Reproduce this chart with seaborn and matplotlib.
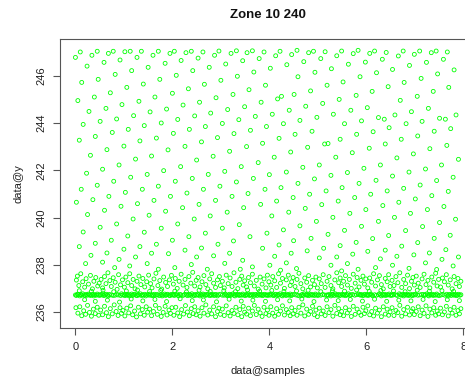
import matplotlib
matplotlib.use("Agg")
import matplotlib.pyplot as plt
import seaborn as sns
import pandas as pd

TITLE = "Zone 10 240"
X_LABEL = "data@samples"
Y_LABEL = "data@y"
X_TICKS = [0, 2, 4, 6, 8]
Y_TICKS = [236, 238, 240, 242, 244, 246]

# Readings that climb through the upper range (samples, y)
ramp_points = [
    (0.00, 246.79), (0.10, 247.02), (0.34, 246.88), (0.45, 247.05), (0.68, 246.96), (0.78, 247.05),
    (1.02, 247.03), (1.13, 247.05), (1.36, 247.05), (1.27, 246.79), (1.60, 246.88), (1.71, 247.05),
    (1.95, 246.96), (2.04, 247.05), (2.28, 246.99), (2.39, 247.05),
    (0.24, 246.42), (0.59, 246.58), (0.92, 246.68), (1.50, 246.37), (1.85, 246.54), (2.18, 246.66), (2.42, 246.23),
    (0.13, 245.73), (0.47, 245.86), (0.82, 246.07), (1.16, 246.23), (1.40, 245.66), (1.74, 245.86), (2.08, 246.03), (2.33, 245.46),
    (0.05, 244.96), (0.39, 245.11), (0.72, 245.29), (1.06, 245.52), (1.31, 244.93), (1.64, 245.11), (2.00, 245.27), (2.22, 244.77),
    (0.28, 244.50), (0.63, 244.63), (0.96, 244.79), (1.54, 244.48), (1.88, 244.60), (2.46, 244.31),
    (0.16, 243.95), (0.51, 244.08), (0.85, 244.18), (1.20, 244.32), (1.42, 243.90), (1.77, 244.01), (2.11, 244.16), (2.35, 243.74),
    (0.08, 243.28), (0.41, 243.44), (0.76, 243.61), (1.09, 243.74), (1.33, 243.25), (1.67, 243.37), (2.02, 243.57), (2.26, 243.02),
    (0.31, 242.64), (0.65, 242.88), (1.00, 243.03), (1.24, 242.48), (1.57, 242.61), (1.91, 242.87), (2.50, 242.44),
    (2.53, 246.76), (2.63, 247.02), (2.87, 246.88), (2.96, 247.06), (3.21, 246.96), (3.32, 247.07), (3.54, 246.99),
    (3.65, 247.07), (3.89, 247.02), (3.79, 246.74), (4.13, 246.86), (4.22, 247.05), (4.46, 246.91), (4.57, 247.09),
    (4.81, 246.99), (4.91, 247.05), (5.15, 247.03), (5.06, 246.74),
    (3.45, 246.65), (3.10, 246.51), (2.76, 246.37), (4.71, 246.61), (4.36, 246.48), (4.02, 246.33), (3.68, 246.17),
    (3.34, 245.99), (3.00, 245.82), (2.66, 245.65), (5.28, 246.31), (4.94, 246.16), (4.59, 245.97),
    (3.92, 245.61), (3.58, 245.42), (3.25, 245.22), (2.90, 245.08), (2.56, 244.89), (5.19, 245.61), (4.85, 245.37),
    (4.51, 245.22), (4.17, 245.03), (4.25, 245.14), (3.83, 244.89), (3.49, 244.70), (3.14, 244.58), (2.79, 244.43),
    (5.10, 244.84), (4.75, 244.72), (4.41, 244.55), (4.06, 244.38), (3.71, 244.29), (3.37, 244.15), (3.03, 243.99),
    (2.68, 243.86), (5.32, 244.38), (4.98, 244.25), (4.63, 244.12), (4.29, 243.98), (3.94, 243.86), (3.61, 243.70),
    (3.27, 243.56), (2.93, 243.39), (2.60, 243.21),
    (4.88, 243.66), (4.53, 243.53), (4.20, 243.36), (3.86, 243.15), (3.53, 243.01), (3.18, 242.81), (2.84, 242.60),
    (5.14, 243.12), (5.21, 243.14), (4.79, 242.98), (4.44, 242.78), (4.10, 242.56), (3.77, 242.33),
    (5.39, 246.86), (5.49, 247.06), (5.63, 246.50), (5.73, 246.95), (5.83, 247.09), (5.98, 246.59), (6.07, 246.96),
    (6.17, 247.06), (6.33, 246.71), (6.41, 247.00), (6.66, 246.85), (6.76, 247.06), (6.89, 246.45), (6.99, 246.92),
    (7.10, 247.06), (7.24, 246.58), (7.34, 246.99), (7.44, 247.06), (7.59, 246.71), (7.67, 247.02), (7.81, 246.26),
    (5.52, 245.75), (5.87, 245.97), (6.21, 246.14), (6.54, 246.28), (6.78, 245.73), (7.13, 245.90), (7.47, 246.09), (7.70, 245.52),
    (5.44, 245.01), (5.79, 245.18), (6.12, 245.35), (6.45, 245.55), (6.70, 244.97), (7.05, 245.14), (7.38, 245.35),
    (5.68, 244.55), (6.02, 244.66), (6.25, 244.24), (6.37, 244.17), (6.59, 244.35), (6.93, 244.49), (7.28, 244.63),
    (7.51, 244.21), (7.63, 244.17), (7.85, 244.35),
    (5.55, 243.98), (5.90, 244.10), (6.47, 243.81), (6.82, 243.98), (7.15, 244.08), (7.74, 243.77),
    (5.46, 243.32), (5.80, 243.53), (6.14, 243.64), (6.72, 243.32), (7.06, 243.46), (7.40, 243.66),
    (5.71, 242.75), (6.06, 242.94), (6.39, 243.12), (5.37, 242.56), (6.97, 242.70), (7.31, 242.92), (7.66, 243.06),
    (7.90, 242.47), (6.63, 242.53),
    (0.23, 241.88), (0.56, 242.05), (0.90, 242.23), (1.48, 241.83), (1.82, 241.99), (2.17, 242.16), (2.74, 241.83),
    (3.08, 241.96), (3.42, 242.16),
    (0.12, 241.20), (0.45, 241.37), (0.79, 241.54), (1.14, 241.71), (1.38, 241.20), (1.71, 241.33), (2.06, 241.54),
    (2.41, 241.66), (2.64, 241.20), (2.98, 241.33), (3.32, 241.51), (3.67, 241.66),
    (0.02, 240.65), (0.36, 240.76), (0.69, 240.90), (1.03, 241.07), (1.28, 240.59), (1.62, 240.73), (1.96, 240.90),
    (2.30, 241.04), (2.55, 240.56), (2.89, 240.73), (3.23, 240.90), (3.56, 241.02),
    (0.25, 240.13), (0.60, 240.31), (0.94, 240.48), (1.19, 239.94), (1.52, 240.10), (1.86, 240.27), (2.21, 240.42),
    (2.45, 239.94), (2.78, 240.07), (3.13, 240.23), (3.47, 240.42),
    (0.51, 239.59), (0.85, 239.73), (0.16, 239.39), (1.08, 239.22), (1.42, 239.38), (1.77, 239.55), (2.11, 239.73),
    (2.34, 239.19), (2.68, 239.34), (3.03, 239.55), (3.38, 239.70), (3.60, 239.19),
    (0.08, 238.77), (0.41, 238.91), (0.74, 239.04), (1.00, 238.66), (1.33, 238.77), (1.67, 238.87), (2.00, 239.04),
    (2.26, 238.62), (2.60, 238.71), (2.94, 238.87), (3.26, 239.01),
    (0.32, 238.40), (0.65, 238.50), (0.90, 238.23), (1.24, 238.33), (1.57, 238.49), (1.92, 238.47), (2.50, 238.33),
    (2.85, 238.38), (3.18, 238.49), (3.45, 238.19),
    (4.00, 241.82), (4.35, 241.93), (4.69, 242.13), (5.03, 242.23), (5.27, 241.79), (5.61, 241.91), (5.95, 242.09),
    (6.29, 242.23), (6.54, 241.76), (6.88, 241.93), (7.22, 242.06), (7.55, 242.23), (7.79, 241.71),
    (3.91, 241.20), (4.24, 241.27), (4.59, 241.45), (4.93, 241.64), (5.17, 241.13), (5.50, 241.27), (5.85, 241.45),
    (6.20, 241.58), (6.43, 241.13), (6.77, 241.24), (7.11, 241.38), (7.45, 241.57), (7.69, 241.11),
    (3.82, 240.56), (4.15, 240.70), (4.49, 240.85), (4.83, 240.99), (5.08, 240.55), (5.42, 240.70), (5.76, 240.85),
    (6.09, 240.99), (6.34, 240.51), (6.67, 240.65), (7.01, 240.79), (7.35, 240.93), (7.60, 240.47),
    (4.05, 240.07), (4.40, 240.23), (4.74, 240.39), (4.97, 239.84), (5.31, 240.01), (5.66, 240.18), (5.99, 240.34),
    (6.25, 239.84), (6.58, 240.01), (6.91, 240.18), (7.26, 240.34), (7.51, 239.79), (7.84, 239.93),
    (3.95, 239.34), (4.29, 239.48), (4.63, 239.65), (4.86, 239.12), (5.21, 239.29), (5.55, 239.46), (5.90, 239.63),
    (6.13, 239.11), (6.46, 239.24), (6.81, 239.45), (7.16, 239.62), (7.40, 239.12), (7.73, 239.25),
    (3.86, 238.70), (4.20, 238.84), (4.50, 239.02), (4.78, 238.59), (5.12, 238.70), (5.46, 238.81), (5.79, 238.95),
    (6.03, 238.57), (6.39, 238.62), (6.73, 238.79), (7.06, 238.94), (7.30, 238.50), (7.64, 238.64), (7.90, 238.33),
    (4.11, 238.36), (4.45, 238.49), (5.03, 238.29), (5.39, 238.33), (5.72, 238.45), (6.29, 238.25), (6.63, 238.36),
    (6.98, 238.42), (7.56, 238.23),
    (0.21, 238.05), (0.56, 238.11), (0.81, 237.88), (1.12, 237.95), (1.48, 238.05), (1.71, 237.81), (2.05, 237.88),
    (2.39, 238.01), (2.72, 237.81), (3.08, 238.06), (3.40, 237.81), (3.65, 237.91), (4.01, 237.98), (4.35, 238.08),
    (4.23, 237.77), (4.56, 237.84), (5.27, 237.98), (5.61, 238.05), (5.49, 237.74), (5.83, 237.81), (6.19, 237.88),
    (6.54, 237.98), (7.22, 238.08), (7.79, 237.95), (6.88, 237.85), (7.45, 237.80),
]

# Scatter just above the baseline
upper_band_points = [
    (0.02, 237.35), (0.04, 237.52), (0.07, 237.12), (0.11, 237.62), (0.15, 237.28), (0.19, 237.05), (0.22, 237.41),
    (0.27, 237.18), (0.31, 237.55), (0.35, 236.98), (0.38, 237.30), (0.42, 237.46), (0.46, 237.10), (0.49, 237.22),
    (0.53, 237.38), (0.56, 237.02), (0.60, 237.50), (0.63, 237.20), (0.67, 237.66), (0.71, 237.33), (0.74, 237.08),
    (0.78, 237.45), (0.82, 237.26), (0.86, 236.96), (0.89, 237.58), (0.93, 237.15), (0.97, 237.36),
    (1.01, 237.05), (1.04, 237.48), (1.08, 237.24), (1.12, 237.62), (1.16, 237.12), (1.19, 237.38), (1.23, 236.98),
    (1.27, 237.30), (1.31, 237.52), (1.35, 237.16), (1.39, 237.42), (1.43, 237.06), (1.47, 237.28),
    (1.51, 237.56), (1.55, 237.20), (1.58, 237.02), (1.62, 237.40), (1.66, 237.64), (1.70, 237.12), (1.74, 237.33),
    (1.78, 236.97), (1.82, 237.48), (1.86, 237.25), (1.90, 237.08), (1.94, 237.36), (1.98, 237.55),
    (2.02, 237.18), (2.06, 237.42), (2.10, 237.00), (2.14, 237.30), (2.18, 237.60), (2.22, 237.14), (2.26, 237.38),
    (2.30, 237.04), (2.34, 237.50), (2.38, 237.22), (2.42, 237.68), (2.46, 237.10), (2.49, 237.34),
    (2.53, 237.46), (2.57, 237.06), (2.61, 237.28), (2.65, 237.54), (2.69, 237.16), (2.73, 236.98), (2.77, 237.40),
    (2.81, 237.62), (2.85, 237.22), (2.89, 237.04), (2.93, 237.36), (2.97, 237.50), (2.99, 237.12),
    (3.03, 237.30), (3.07, 237.02), (3.11, 237.56), (3.15, 237.20), (3.19, 237.44), (3.23, 237.08), (3.27, 237.66),
    (3.31, 237.26), (3.35, 236.99), (3.39, 237.38), (3.43, 237.52), (3.46, 237.14), (3.49, 237.32),
    (3.53, 237.06), (3.57, 237.46), (3.61, 237.24), (3.65, 237.60), (3.69, 237.10), (3.73, 237.34), (3.77, 236.97),
    (3.81, 237.48), (3.85, 237.18), (3.89, 237.40), (3.93, 237.02), (3.96, 237.56), (3.99, 237.28),
    (4.03, 237.14), (4.07, 237.50), (4.11, 237.32), (4.15, 237.04), (4.19, 237.62), (4.23, 237.22), (4.27, 237.42),
    (4.31, 237.00), (4.35, 237.36), (4.39, 237.56), (4.43, 237.12), (4.46, 237.28), (4.49, 237.46),
    (4.53, 237.08), (4.57, 237.38), (4.61, 237.64), (4.65, 237.20), (4.69, 236.98), (4.73, 237.44), (4.77, 237.26),
    (4.81, 237.54), (4.85, 237.06), (4.89, 237.34), (4.93, 237.16), (4.96, 237.48), (4.99, 237.02),
    (5.03, 237.40), (5.07, 237.20), (5.11, 237.58), (5.15, 237.04), (5.19, 237.30), (5.23, 237.50), (5.27, 237.12),
    (5.31, 236.98), (5.35, 237.36), (5.39, 237.66), (5.43, 237.24), (5.46, 237.44), (5.49, 237.08),
    (5.53, 237.30), (5.57, 237.54), (5.61, 237.14), (5.65, 237.38), (5.69, 237.00), (5.73, 237.60), (5.77, 237.22),
    (5.81, 237.46), (5.85, 237.06), (5.89, 237.34), (5.93, 237.52), (5.96, 237.18), (5.99, 237.40),
    (6.03, 237.02), (6.07, 237.44), (6.11, 237.26), (6.15, 237.62), (6.19, 237.10), (6.23, 237.36), (6.27, 237.54),
    (6.31, 237.16), (6.35, 236.98), (6.39, 237.42), (6.43, 237.28), (6.46, 237.58), (6.49, 237.08),
    (6.53, 237.34), (6.57, 237.12), (6.61, 237.50), (6.65, 237.24), (6.69, 237.66), (6.73, 237.04), (6.77, 237.38),
    (6.81, 237.20), (6.85, 237.56), (6.89, 236.99), (6.93, 237.30), (6.96, 237.46), (6.99, 237.14),
    (7.03, 237.52), (7.07, 237.22), (7.11, 237.04), (7.15, 237.40), (7.19, 237.60), (7.23, 237.16), (7.27, 237.34),
    (7.31, 237.02), (7.35, 237.48), (7.39, 237.26), (7.43, 237.64), (7.46, 237.10), (7.49, 237.38),
    (7.53, 237.06), (7.57, 237.44), (7.61, 237.28), (7.65, 237.58), (7.69, 237.14), (7.73, 237.36), (7.77, 236.98),
    (7.81, 237.50), (7.85, 237.20), (7.89, 237.42), (7.92, 237.08), (7.95, 237.30),
]

# Dense baseline readings, clumped with thinner stretches in between
core_points = [
    (0.00, 236.72), (0.02, 236.70), (0.04, 236.75), (0.06, 236.73), (0.09, 236.68), (0.11, 236.74), (0.13, 236.71),
    (0.15, 236.77), (0.18, 236.72), (0.20, 236.69), (0.22, 236.74), (0.25, 236.71), (0.27, 236.76), (0.29, 236.73),
    (0.31, 236.70), (0.34, 236.72), (0.36, 236.75), (0.38, 236.68), (0.40, 236.73), (0.43, 236.71), (0.45, 236.76),
    (0.47, 236.72),
    (0.50, 236.70), (0.52, 236.74), (0.55, 236.72), (0.57, 236.77), (0.59, 236.69), (0.61, 236.73), (0.64, 236.75),
    (0.66, 236.71), (0.68, 236.68), (0.70, 236.74), (0.74, 236.72), (0.78, 236.70), (0.82, 236.71), (0.85, 236.75),
    (0.88, 236.72), (0.93, 236.70), (0.95, 236.77), (0.97, 236.72),
    (1.00, 236.73), (1.02, 236.69), (1.04, 236.75), (1.07, 236.71), (1.09, 236.74), (1.11, 236.68), (1.13, 236.72),
    (1.16, 236.76), (1.18, 236.70), (1.20, 236.73), (1.22, 236.75), (1.25, 236.71), (1.27, 236.69), (1.29, 236.74),
    (1.31, 236.72), (1.34, 236.77), (1.36, 236.70), (1.38, 236.73), (1.40, 236.71), (1.43, 236.75), (1.45, 236.68),
    (1.47, 236.72),
    (1.50, 236.74), (1.52, 236.71), (1.54, 236.76), (1.57, 236.70), (1.59, 236.73), (1.61, 236.69), (1.63, 236.75),
    (1.66, 236.72), (1.69, 236.74), (1.72, 236.70), (1.75, 236.71), (1.77, 236.74), (1.79, 236.68), (1.81, 236.72),
    (1.84, 236.76), (1.86, 236.70), (1.88, 236.73), (1.90, 236.75), (1.93, 236.71), (1.95, 236.69), (1.97, 236.74),
    (2.00, 236.72), (2.02, 236.75), (2.04, 236.70), (2.07, 236.73), (2.09, 236.77), (2.11, 236.71), (2.13, 236.68),
    (2.16, 236.74), (2.18, 236.72), (2.22, 236.70), (2.25, 236.74), (2.29, 236.75), (2.31, 236.69), (2.34, 236.72),
    (2.36, 236.74), (2.38, 236.70), (2.40, 236.77), (2.43, 236.72), (2.45, 236.69), (2.47, 236.74),
    (2.50, 236.71), (2.52, 236.75), (2.54, 236.72), (2.57, 236.68), (2.59, 236.74), (2.61, 236.71), (2.63, 236.76),
    (2.66, 236.73), (2.68, 236.70), (2.70, 236.74), (2.72, 236.72), (2.75, 236.77), (2.77, 236.69), (2.79, 236.73),
    (2.81, 236.71), (2.84, 236.75), (2.86, 236.70), (2.88, 236.72), (2.90, 236.74), (2.93, 236.68), (2.95, 236.73),
    (2.99, 236.75), (3.03, 236.71),
    (3.07, 236.71), (3.09, 236.76), (3.11, 236.73), (3.13, 236.69),
    (3.16, 236.72), (3.18, 236.75), (3.20, 236.70), (3.22, 236.73), (3.25, 236.77), (3.27, 236.71), (3.29, 236.68),
    (3.31, 236.74), (3.34, 236.72), (3.36, 236.75), (3.38, 236.70), (3.40, 236.73), (3.43, 236.71), (3.45, 236.76),
    (3.47, 236.72),
    (3.50, 236.69), (3.52, 236.74), (3.54, 236.72), (3.57, 236.76), (3.59, 236.70), (3.61, 236.73), (3.63, 236.71),
    (3.66, 236.75), (3.68, 236.68), (3.70, 236.72), (3.72, 236.74), (3.75, 236.70), (3.77, 236.77), (3.79, 236.73),
    (3.81, 236.71), (3.84, 236.74), (3.86, 236.69), (3.88, 236.72), (3.90, 236.75), (3.93, 236.71), (3.95, 236.73),
    (3.97, 236.70),
    (4.00, 236.74), (4.02, 236.71), (4.04, 236.76), (4.07, 236.72), (4.09, 236.69), (4.11, 236.73), (4.13, 236.75),
    (4.16, 236.70), (4.18, 236.74), (4.20, 236.72), (4.22, 236.77), (4.25, 236.71), (4.27, 236.68), (4.29, 236.73),
    (4.31, 236.75), (4.34, 236.70), (4.36, 236.72), (4.38, 236.74), (4.40, 236.71), (4.43, 236.76), (4.45, 236.69),
    (4.47, 236.73), (4.51, 236.75), (4.55, 236.72), (4.59, 236.70), (4.63, 236.68),
    (4.66, 236.72), (4.68, 236.74), (4.70, 236.70), (4.72, 236.77), (4.75, 236.73), (4.77, 236.71), (4.79, 236.74),
    (4.81, 236.69), (4.84, 236.72), (4.86, 236.75), (4.88, 236.71), (4.90, 236.73), (4.93, 236.70), (4.95, 236.76),
    (4.97, 236.72),
    (5.00, 236.70), (5.02, 236.73), (5.06, 236.71), (5.10, 236.74), (5.14, 236.72), (5.18, 236.70), (5.20, 236.73),
    (5.22, 236.71), (5.25, 236.75), (5.27, 236.68), (5.29, 236.72), (5.31, 236.74), (5.34, 236.70), (5.36, 236.77),
    (5.38, 236.73), (5.40, 236.71), (5.43, 236.74), (5.45, 236.69), (5.47, 236.72),
    (5.50, 236.75), (5.52, 236.71), (5.54, 236.73), (5.57, 236.69), (5.59, 236.74), (5.61, 236.72), (5.63, 236.77),
    (5.66, 236.70), (5.68, 236.73), (5.72, 236.74), (5.76, 236.71), (5.80, 236.73),
    (5.84, 236.76), (5.86, 236.73), (5.88, 236.71), (5.90, 236.74), (5.93, 236.69), (5.95, 236.72), (5.97, 236.75),
    (6.00, 236.71), (6.02, 236.74), (6.04, 236.70), (6.07, 236.73), (6.09, 236.76), (6.11, 236.72), (6.13, 236.69),
    (6.17, 236.73), (6.21, 236.71),
    (6.25, 236.73), (6.27, 236.77), (6.29, 236.72), (6.31, 236.68), (6.34, 236.74), (6.36, 236.71), (6.38, 236.75),
    (6.40, 236.70), (6.43, 236.73), (6.45, 236.72), (6.47, 236.76),
    (6.50, 236.70), (6.52, 236.73), (6.54, 236.71), (6.57, 236.75), (6.61, 236.72), (6.64, 236.70),
    (6.68, 236.77), (6.70, 236.73), (6.72, 236.71), (6.75, 236.74), (6.77, 236.68), (6.79, 236.72),
    (6.81, 236.75), (6.84, 236.71), (6.86, 236.73), (6.88, 236.70), (6.90, 236.76), (6.93, 236.72), (6.95, 236.69),
    (6.97, 236.74),
    (7.00, 236.72), (7.02, 236.75), (7.06, 236.71), (7.10, 236.72), (7.14, 236.74), (7.18, 236.74), (7.20, 236.70),
    (7.22, 236.73), (7.25, 236.77), (7.27, 236.71), (7.29, 236.68), (7.31, 236.74), (7.34, 236.72), (7.36, 236.75),
    (7.38, 236.70), (7.40, 236.73), (7.43, 236.71), (7.45, 236.76), (7.47, 236.72),
    (7.50, 236.69), (7.54, 236.72), (7.58, 236.74), (7.62, 236.71), (7.66, 236.75), (7.68, 236.68), (7.70, 236.72),
    (7.72, 236.74), (7.75, 236.70), (7.77, 236.77), (7.79, 236.73), (7.81, 236.71), (7.84, 236.74), (7.86, 236.69),
    (7.88, 236.72), (7.90, 236.75), (7.93, 236.71), (7.95, 236.73),
]

# Readings scattered close to the baseline
fringe_points = [
    (0.08, 236.90), (0.19, 236.52), (0.33, 236.88), (0.41, 236.45), (0.57, 236.92), (0.66, 236.50), (0.79, 236.86),
    (0.91, 236.42), (1.05, 236.89), (1.15, 236.55), (1.28, 236.93), (1.39, 236.47), (1.53, 236.87), (1.64, 236.53),
    (1.76, 236.91), (1.88, 236.44), (2.05, 236.88), (2.16, 236.56), (2.29, 236.85), (2.41, 236.48), (2.55, 236.92),
    (2.64, 236.51), (2.78, 236.87), (2.91, 236.43), (3.06, 236.90), (3.17, 236.54), (3.30, 236.86), (3.42, 236.46),
    (3.55, 236.93), (3.66, 236.50), (3.80, 236.88), (3.92, 236.45), (4.05, 236.91), (4.17, 236.52), (4.30, 236.87),
    (4.42, 236.47), (4.56, 236.89), (4.67, 236.55), (4.80, 236.92), (4.92, 236.44), (5.06, 236.86), (5.18, 236.51),
    (5.30, 236.90), (5.42, 236.48), (5.55, 236.88), (5.67, 236.53), (5.80, 236.93), (5.92, 236.46), (6.06, 236.87),
    (6.17, 236.54), (6.30, 236.91), (6.42, 236.45), (6.56, 236.89), (6.67, 236.50), (6.80, 236.86), (6.92, 236.47),
    (7.05, 236.92), (7.17, 236.53), (7.30, 236.88), (7.42, 236.44), (7.56, 236.90), (7.67, 236.52), (7.80, 236.87),
    (7.92, 236.48),
]

# Scatter just below the baseline
lower_band_points = [
    (0.01, 236.18), (0.05, 235.95), (0.09, 236.22), (0.13, 235.84), (0.17, 236.05), (0.21, 235.90), (0.25, 236.28),
    (0.29, 235.98), (0.33, 235.82), (0.37, 236.12), (0.41, 235.93), (0.45, 236.20), (0.48, 235.86),
    (0.52, 236.08), (0.56, 235.88), (0.60, 236.24), (0.64, 235.97), (0.68, 235.80), (0.72, 236.14), (0.76, 235.92),
    (0.80, 236.30), (0.84, 236.02), (0.88, 235.85), (0.92, 236.18), (0.95, 235.94), (0.98, 236.06),
    (1.02, 235.83), (1.06, 236.16), (1.10, 235.96), (1.14, 236.26), (1.18, 235.88), (1.22, 236.04), (1.26, 235.79),
    (1.30, 236.20), (1.34, 235.92), (1.38, 236.10), (1.42, 235.86), (1.46, 236.22), (1.49, 235.99),
    (1.53, 236.12), (1.57, 235.84), (1.61, 236.02), (1.65, 236.28), (1.69, 235.90), (1.73, 236.15), (1.77, 235.81),
    (1.81, 235.98), (1.85, 236.24), (1.89, 235.87), (1.93, 236.08), (1.96, 235.94), (1.99, 236.18),
    (2.03, 235.86), (2.07, 236.20), (2.11, 235.96), (2.15, 235.80), (2.19, 236.10), (2.23, 235.91), (2.27, 236.27),
    (2.31, 236.00), (2.35, 235.84), (2.39, 236.14), (2.43, 235.93), (2.46, 236.22), (2.49, 235.88),
    (2.53, 236.05), (2.57, 235.82), (2.61, 236.18), (2.65, 235.95), (2.69, 236.30), (2.73, 235.87), (2.77, 236.08),
    (2.81, 235.92), (2.85, 236.22), (2.89, 235.80), (2.93, 236.02), (2.96, 236.16), (2.99, 235.90),
    (3.03, 236.12), (3.07, 235.85), (3.11, 236.26), (3.15, 235.97), (3.19, 235.83), (3.23, 236.06), (3.27, 235.94),
    (3.31, 236.20), (3.35, 235.88), (3.39, 236.10), (3.43, 235.80), (3.46, 236.24), (3.49, 235.99),
    (3.53, 235.91), (3.57, 236.16), (3.61, 235.84), (3.65, 236.04), (3.69, 236.28), (3.73, 235.89), (3.77, 236.12),
    (3.81, 235.96), (3.85, 235.81), (3.89, 236.20), (3.93, 235.93), (3.96, 236.08), (3.99, 235.86),
    (4.03, 236.22), (4.07, 235.95), (4.11, 235.82), (4.15, 236.14), (4.19, 235.90), (4.23, 236.04), (4.27, 236.26),
    (4.31, 235.87), (4.35, 236.10), (4.39, 235.98), (4.43, 235.84), (4.46, 236.18), (4.49, 235.92),
    (4.53, 236.06), (4.57, 235.86), (4.61, 236.20), (4.65, 235.95), (4.69, 236.30), (4.73, 235.83), (4.77, 236.12),
    (4.81, 235.90), (4.85, 236.02), (4.89, 236.24), (4.93, 235.88), (4.96, 236.08), (4.99, 235.80),
    (5.03, 236.16), (5.07, 235.92), (5.11, 236.04), (5.15, 235.85), (5.19, 236.22), (5.23, 235.97), (5.27, 236.10),
    (5.31, 235.82), (5.35, 236.28), (5.39, 235.94), (5.43, 236.14), (5.46, 235.88), (5.49, 236.02),
    (5.53, 235.84), (5.57, 236.18), (5.61, 235.96), (5.65, 236.08), (5.69, 235.81), (5.73, 236.24), (5.77, 235.90),
    (5.81, 236.12), (5.85, 235.98), (5.89, 235.86), (5.93, 236.20), (5.96, 235.93), (5.99, 236.05),
    (6.03, 236.26), (6.07, 235.88), (6.11, 236.02), (6.15, 235.83), (6.19, 236.16), (6.23, 235.95), (6.27, 236.08),
    (6.31, 235.80), (6.35, 236.22), (6.39, 235.91), (6.43, 236.12), (6.46, 235.86), (6.49, 236.00),
    (6.53, 236.18), (6.57, 235.85), (6.61, 236.06), (6.65, 235.97), (6.69, 236.28), (6.73, 235.82), (6.77, 236.10),
    (6.81, 235.92), (6.85, 236.20), (6.89, 235.87), (6.93, 236.04), (6.96, 236.14), (6.99, 235.89),
    (7.03, 236.02), (7.07, 236.22), (7.11, 235.84), (7.15, 236.08), (7.19, 235.94), (7.23, 236.26), (7.27, 235.81),
    (7.31, 236.12), (7.35, 235.96), (7.39, 236.18), (7.43, 235.86), (7.46, 236.04), (7.49, 235.92),
    (7.53, 236.16), (7.57, 235.88), (7.61, 236.00), (7.65, 236.24), (7.69, 235.83), (7.73, 236.10), (7.77, 235.95),
    (7.81, 236.20), (7.85, 235.86), (7.89, 236.06), (7.92, 235.92), (7.95, 236.14),
]

all_points = ramp_points + upper_band_points + core_points + fringe_points + lower_band_points
df = pd.DataFrame(all_points, columns=["samples", "y"])

sns.set_theme(style="white")
plt.rcParams["font.family"] = ["Liberation Sans", "DejaVu Sans"]

fig = plt.figure(figsize=(4.65, 3.81), dpi=100)
ax = fig.add_axes([60 / 465, 53 / 381, 416.3 / 465, 289 / 381])

sns.scatterplot(
    data=df, x="samples", y="y", ax=ax,
    marker="o", s=8, facecolor="none", edgecolor="#00ff00", linewidth=0.6,
    legend=False,
)

ax.set_xlim(-0.318, 8.268)
ax.set_ylim(235.32, 247.57)
ax.set_xticks(X_TICKS)
ax.set_yticks(Y_TICKS)
ax.set_xticklabels([str(v) for v in X_TICKS])
ax.set_yticklabels([str(v) for v in Y_TICKS], rotation=90, va="center")

for side in ["left", "bottom", "top", "right"]:
    ax.spines[side].set_color("#555555")
    ax.spines[side].set_linewidth(0.8)

ax.tick_params(axis="both", direction="out", length=5, width=0.8, color="#555555",
               labelsize=8, labelcolor="#222222", pad=5)
ax.tick_params(axis="x", bottom=True)
ax.tick_params(axis="y", left=True)

ax.set_xlabel(X_LABEL, fontsize=8, color="#222222", labelpad=10)
ax.set_ylabel(Y_LABEL, fontsize=8, color="#222222", labelpad=9)
ax.set_title(TITLE, fontsize=9.5, fontweight="bold", color="#111111", pad=15)
ax.grid(False)

fig.savefig("out.png", dpi=100)
